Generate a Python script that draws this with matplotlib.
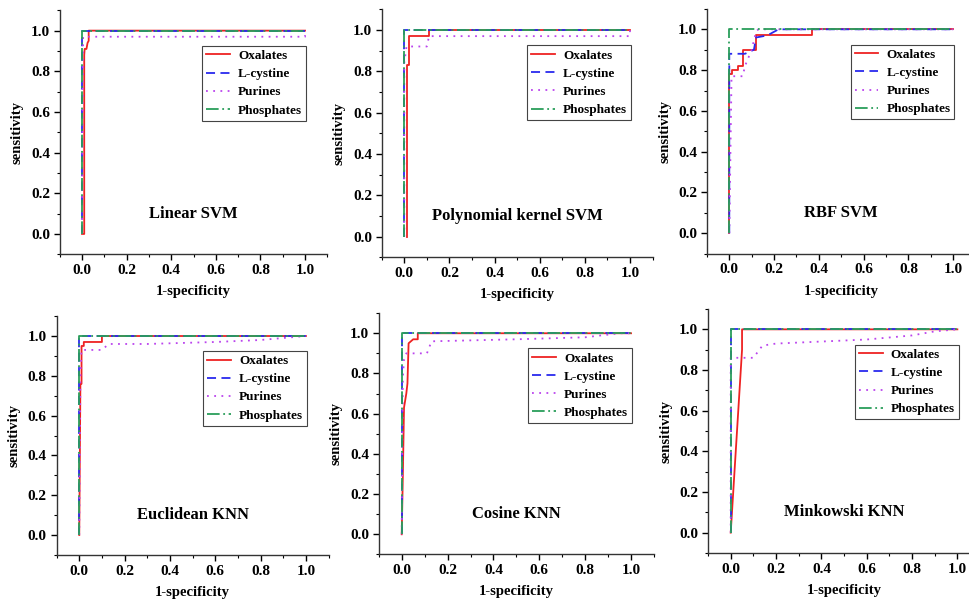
import matplotlib
matplotlib.use("Agg")
import matplotlib.pyplot as plt
from matplotlib.ticker import MultipleLocator

plt.rcParams['font.family'] = ['Liberation Serif', 'DejaVu Serif']
plt.rcParams['font.weight'] = 'bold'

titles = ["Linear SVM", "Polynomial kernel SVM", "RBF SVM",
          "Euclidean KNN", "Cosine KNN", "Minkowski KNN"]
series_names = ["Oxalates", "L-cystine", "Purines", "Phosphates"]

# ROC curves: (fpr list, tpr list) per class, per model
linear_svm = [
    ([0, 0.01, 0.01, 0.012, 0.02, 0.025, 0.03, 0.03, 1], [0, 0, 0.88, 0.91, 0.91, 0.94, 0.95, 1.0, 1.0]),
    ([0, 0, 1], [0, 1.0, 1.0]),
    ([0, 0.005, 1, 1], [0, 0.97, 0.97, 1.0]),
    ([0, 0, 1], [0, 1.0, 1.0]),
]
poly_svm = [
    ([0.01, 0.01, 0.02, 0.02, 0.11, 0.11, 1], [0, 0.83, 0.83, 0.97, 0.97, 1.0, 1.0]),
    ([0, 0, 1], [0, 1.0, 1.0]),
    ([0, 0, 0.01, 0.1, 0.11, 1, 1], [0, 0.84, 0.92, 0.92, 0.97, 0.97, 1.0]),
    ([0, 0, 1], [0, 1.0, 1.0]),
]
rbf_svm = [
    ([0, 0, 0.01, 0.01, 0.04, 0.04, 0.06, 0.06, 0.12, 0.12, 0.37, 0.37, 1],
     [0, 0.78, 0.78, 0.80, 0.80, 0.82, 0.82, 0.90, 0.90, 0.97, 0.97, 1.0, 1.0]),
    ([0, 0, 0.07, 0.09, 0.11, 0.12, 0.17, 0.22, 1],
     [0, 0.88, 0.88, 0.89, 0.90, 0.96, 0.97, 1.0, 1.0]),
    ([0, 0.01, 0.06, 0.07, 0.1, 0.12, 0.13, 1],
     [0, 0.77, 0.77, 0.82, 0.90, 0.99, 1.0, 1.0]),
    ([0, 0, 1], [0, 1.0, 1.0]),
]
euclid_knn = [
    ([0, 0.005, 0.01, 0.01, 0.02, 0.02, 0.1, 0.1, 1], [0, 0.76, 0.76, 0.95, 0.95, 0.97, 0.97, 1.0, 1.0]),
    ([0, 0, 1], [0, 1.0, 1.0]),
    ([0, 0.005, 0.01, 0.1, 0.13, 0.3, 0.6, 0.8, 0.9, 1],
     [0, 0.8, 0.93, 0.93, 0.96, 0.96, 0.97, 0.98, 0.99, 1.0]),
    ([0, 0, 1], [0, 1.0, 1.0]),
]
cosine_knn = [
    ([0, 0.005, 0.01, 0.02, 0.025, 0.03, 0.05, 0.07, 0.07, 1],
     [0, 0.3, 0.63, 0.7, 0.75, 0.95, 0.97, 0.97, 1.0, 1.0]),
    ([0, 0, 1], [0, 1.0, 1.0]),
    ([0, 0.005, 0.01, 0.02, 0.11, 0.13, 0.5, 0.8, 0.95, 1],
     [0, 0.78, 0.87, 0.9, 0.9, 0.96, 0.97, 0.98, 1.0, 1.0]),
    ([0, 0, 1], [0, 1.0, 1.0]),
]
minkowski_knn = [
    ([0, 0.05, 0.05, 1], [0, 0.9, 1.0, 1.0]),
    ([0, 0, 1], [0, 1.0, 1.0]),
    ([0, 0, 0.1, 0.14, 0.2, 0.4, 0.6, 0.8, 0.9, 1],
     [0, 0.86, 0.86, 0.92, 0.93, 0.94, 0.95, 0.97, 0.99, 1.0]),
    ([0, 0, 1], [0, 1.0, 1.0]),
]
all_curves = [linear_svm, poly_svm, rbf_svm, euclid_knn, cosine_knn, minkowski_knn]

colors = ['#ee2222', '#2a2aee', '#bb44ee', '#2a9e5a']
styles = ['-', (0, (5, 3)), (0, (1, 3)), (0, (7, 2, 1, 2))]

rects = [
    (0.0616, 0.5776, 0.2762, 0.4053),
    (0.3939, 0.5726, 0.2795, 0.4120),
    (0.7295, 0.5786, 0.2774, 0.4066),
    (0.0584, 0.0782, 0.2807, 0.3967),
    (0.3909, 0.0791, 0.2840, 0.4007),
    (0.7307, 0.0814, 0.2807, 0.4053),
]

fig = plt.figure(figsize=(9.69, 6.02), dpi=100)

for rect, title, curves in zip(rects, titles, all_curves):
    ax = fig.add_axes(rect)
    for (fpr, tpr), name, c, ls in zip(curves, series_names, colors, styles):
        ax.plot(fpr, tpr, color=c, linestyle=ls, linewidth=1.3, label=name)
    ax.set_xlim(-0.1, 1.1)
    ax.set_ylim(-0.1, 1.1)
    ax.spines['top'].set_visible(False)
    ax.spines['right'].set_visible(False)
    for s in ('left', 'bottom'):
        ax.spines[s].set_linewidth(1.0)
        ax.spines[s].set_color('#333333')
    ax.xaxis.set_minor_locator(MultipleLocator(0.1))
    ax.yaxis.set_minor_locator(MultipleLocator(0.1))
    ax.set_xticks([0, 0.2, 0.4, 0.6, 0.8, 1.0])
    ax.set_yticks([0, 0.2, 0.4, 0.6, 0.8, 1.0])
    ax.set_xticklabels(["0.0", "0.2", "0.4", "0.6", "0.8", "1.0"])
    ax.set_yticklabels(["0.0", "0.2", "0.4", "0.6", "0.8", "1.0"])
    ax.tick_params(which='major', direction='out', length=4, width=1, pad=3, labelsize=11)
    ax.tick_params(which='minor', direction='out', length=2.5, width=0.8)
    for lab in ax.get_xticklabels() + ax.get_yticklabels():
        lab.set_fontweight('bold')
    ax.set_xlabel("1-specificity", fontsize=10.5, fontweight='bold', labelpad=6)
    ax.set_ylabel("sensitivity", fontsize=10.5, fontweight='bold', labelpad=5)
    ax.text(0.5, 0.1, title, ha='center', va='center', fontsize=12, fontweight='bold')
    leg = ax.legend(loc='upper right', bbox_to_anchor=(1.005, 0.925),
                    bbox_transform=ax.transData, fontsize=9.5, frameon=True,
                    fancybox=False, framealpha=1, edgecolor='#444444',
                    handlelength=1.8, handletextpad=0.6, labelspacing=0.45,
                    borderpad=0.3, borderaxespad=0)
    leg.get_frame().set_linewidth(0.8)
    for t in leg.get_texts():
        t.set_fontweight('bold')

fig.savefig("out.png", dpi=100)
plt.close(fig)
